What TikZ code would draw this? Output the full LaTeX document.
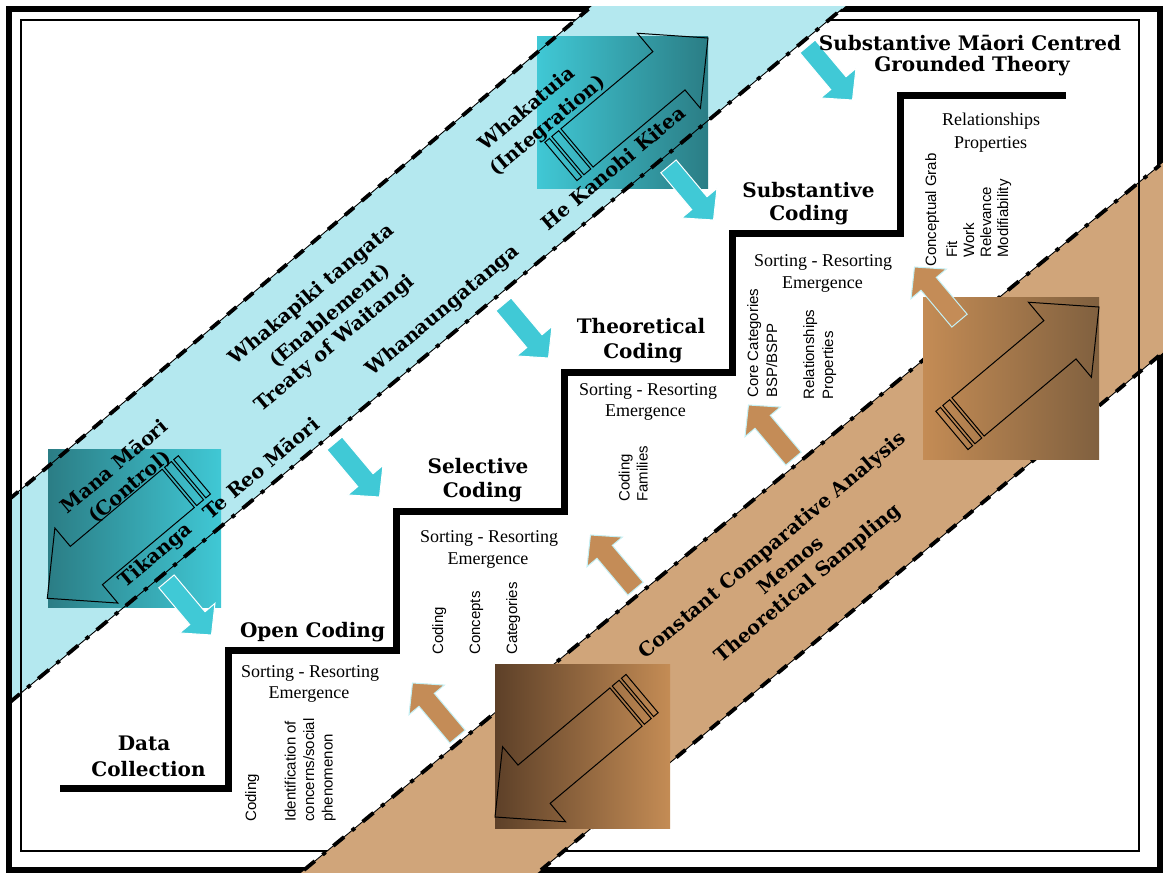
\documentclass[tikz,border=0pt]{standalone}
\usepackage{fontspec}
\setmainfont{Liberation Serif}
\setsansfont{Liberation Sans}
\newfontfamily\stagefont{DejaVu Serif}

\definecolor{bandcyan}{HTML}{B4E8EF}
\definecolor{tealright}{HTML}{40C8D5}
\definecolor{tealdeep}{HTML}{2B7D85}
\definecolor{cyanarrow}{HTML}{40C9D6}
\definecolor{bandtan}{HTML}{D0A57A}
\definecolor{brownlight}{HTML}{C48C55}
\definecolor{browndeep}{HTML}{5D4028}
\definecolor{brownmid}{HTML}{80603F}
\definecolor{brownarrow}{HTML}{C48C57}
\definecolor{arrowrim}{HTML}{C4F0F5}

\tikzset{
  pics/bigarrow/.style={code={
    \draw[arrowoutline] (0,0) -- (-51,49) -- (-51,25) -- (-171,25) -- (-171,-25)
      -- (-51,-25) -- (-51,-49) -- cycle;
    \draw[arrowoutline] (-183,-25) rectangle (-174,25);
    \draw[arrowoutline] (-192,-25) rectangle (-186,25);
  }},
  pics/blockarrow/.style={code={
    \path[#1] (0,0) -- (-22,23) -- (-22,10) -- (-70,10) -- (-70,-10)
      -- (-22,-10) -- (-22,-23) -- cycle;
  }},
}

\begin{document}
\begin{tikzpicture}[x=1pt,y=-1pt,
  stagelabel/.style={font=\stagefont\bfseries\fontsize{20}{24}\selectfont, inner sep=0pt, anchor=base},
  bandlabel/.style={font=\stagefont\bfseries\fontsize{19.5}{22}\selectfont, inner sep=0pt, rotate=40},
  sortnote/.style={font=\fontsize{18}{21}\selectfont, inner sep=0pt, anchor=base},
  sidenote/.style={font=\sffamily\fontsize{15}{17}\selectfont, inner sep=0pt, rotate=90, anchor=base west},
  stairline/.style={line width=7pt, line join=miter},
  framethick/.style={line width=5.5pt},
  framethin/.style={line width=2pt},
  edgethin/.style={line width=0.9pt},
  edgedash/.style={line width=3.8pt, dash pattern=on 12pt off 10pt},
  edgedashdot/.style={line width=3.8pt, dash pattern=on 14pt off 10pt on 4pt off 10pt},
  arrowoutline/.style={draw=black, line width=1pt},
  cyanblock/.style={fill=cyanarrow, draw=white, line width=1pt},
  brownblock/.style={fill=brownarrow, draw=arrowrim, line width=1pt},
]
\useasboundingbox (0,0) rectangle (1163,873);
\fill[white] (0,0) rectangle (1163,873);

% double frame
\draw[framethick] (9,9) rectangle (1160,870);
\draw[framethin] (21,20) rectangle (1139,851);

% diagonal bands
\coordinate (cuL) at (6.5,501.8);
\coordinate (cuT) at (592,6);
\coordinate (clL) at (6.5,705.1);
\coordinate (clT) at (845.6,6);
\fill[bandcyan] (cuL) -- (cuT) -- (clT) -- (clL) -- cycle;

\coordinate (buB) at (301,873);
\coordinate (buR) at (1163,162.6);
\coordinate (blB) at (537.4,873);
\coordinate (blR) at (1163,352.5);
\fill[bandtan] (buB) -- (buR) -- (blR) -- (blB) -- cycle;

% frame sides kept above the bands
\draw[framethick] (9,6.25) -- (9,872.75);
\draw[framethin] (21,19) -- (21,852);
\draw[framethin] (1139,19) -- (1139,852);

% tan band edges
\coordinate (bu1) at (304,870);
\coordinate (bu2) at (1160,165);
\coordinate (bl1) at (541,870);
\coordinate (bl2) at (1160,355);
\draw[edgethin] (bu1) -- (bu2);
\draw[edgedashdot] (bu1) -- (bu2);
\draw[edgethin] (bl1) -- (bl2);
\draw[edgedash] (bl1) -- (bl2);

% gradient squares with striped arrows
\shade[left color=tealright, right color=tealdeep] (537,36) rectangle (708,188);
\pic[rotate=40] at (708,38) {bigarrow};
\shade[left color=tealdeep, right color=tealright] (48,449) rectangle (221,607);
\pic[rotate=220] at (47.3,598.3) {bigarrow};
\shade[left color=browndeep, right color=brownlight] (495,664) rectangle (670,828);
\pic[rotate=220] at (495,817) {bigarrow};
\shade[left color=brownlight, right color=brownmid] (923,297) rectangle (1099,459);
\pic[rotate=40] at (1099,307) {bigarrow};

% cyan band edges
\coordinate (cu1) at (9,499.5);
\coordinate (cu2) at (588.5,9);
\coordinate (cl1) at (9,703);
\coordinate (cl2) at (842,9);
\draw[edgethin] (cu1) -- (cu2);
\draw[edgedash] (cu1) -- (cu2);
\draw[edgethin] (cl1) -- (cl2);
\draw[edgedashdot] (cl1) -- (cl2);

% staircase
\coordinate (s0) at (60,788);
\coordinate (s1) at (228,788);
\coordinate (s2) at (228,650);
\coordinate (s3) at (396,650);
\coordinate (s4) at (396,511);
\coordinate (s5) at (564,511);
\coordinate (s6) at (564,372);
\coordinate (s7) at (732,372);
\coordinate (s8) at (732,233);
\coordinate (s9) at (900,233);
\coordinate (s10) at (900,95);
\coordinate (s11) at (1066,95);
\draw[stairline] (s0) -- (s1) -- (s2) -- (s3) -- (s4) -- (s5) -- (s6)
  -- (s7) -- (s8) -- (s9) -- (s10) -- (s11);

% block arrows
\pic[rotate=-50] at (211.5,635) {blockarrow=cyanblock};
\pic[rotate=-50] at (379.5,497) {blockarrow=cyanblock};
\pic[rotate=-50] at (548.5,358) {blockarrow=cyanblock};
\pic[rotate=-50] at (713.5,220) {blockarrow=cyanblock};
\pic[rotate=-50] at (852.5,100) {blockarrow=cyanblock};
\pic[rotate=130] at (412.5,683) {blockarrow=brownblock};
\pic[rotate=130] at (590.5,535) {blockarrow=brownblock};
\pic[rotate=130] at (748.5,405) {blockarrow=brownblock};
\pic[rotate=130] at (914.5,267) {blockarrow=brownblock};

% stage titles
\node[stagelabel] (topA) at (970,50) {Substantive Māori Centred};
\node[stagelabel] (topB) at (972,71) {Grounded Theory};
\node[stagelabel] (subA) at (808.5,197) {Substantive};
\node[stagelabel] (subB) at (809,220) {Coding};
\node[stagelabel] (theoA) at (641,333) {Theoretical};
\node[stagelabel] (theoB) at (643,358) {Coding};
\node[stagelabel] (selA) at (478,473) {Selective};
\node[stagelabel] (selB) at (482.5,497) {Coding};
\node[stagelabel] (openC) at (312.5,637) {Open Coding};
\node[stagelabel] (dataA) at (144,750) {Data};
\node[stagelabel] (dataB) at (148.5,776) {Collection};

% notes under each step
\node[sortnote] (relA) at (991,125) {Relationships};
\node[sortnote] (relB) at (990.5,148) {Properties};
\node[sortnote] (sortS1) at (823,266) {Sorting - Resorting};
\node[sortnote] (sortS2) at (822.5,288) {Emergence};
\node[sortnote] (sortT1) at (648,395) {Sorting - Resorting};
\node[sortnote] (sortT2) at (645.5,416) {Emergence};
\node[sortnote] (sortL1) at (489,542) {Sorting - Resorting};
\node[sortnote] (sortL2) at (488,564) {Emergence};
\node[sortnote] (sortO1) at (310,677) {Sorting - Resorting};
\node[sortnote] (sortO2) at (309,698) {Emergence};

% vertical notes
\node[sidenote] (oCod) at (256,822) {Coding};
\node[sidenote] (oId1) at (295.5,822) {Identification of};
\node[sidenote] (oId2) at (314,822) {concerns/social};
\node[sidenote] (oId3) at (332.5,822) {phenomenon};
\node[sidenote] (lCod) at (443,655) {Coding};
\node[sidenote] (lCon) at (480,655) {Concepts};
\node[sidenote] (lCat) at (517,655) {Categories};
\node[sidenote] (tCod) at (629.5,502) {Coding};
\node[sidenote] (tFam) at (647.5,502) {Families};
\node[sidenote] (sCore) at (758,398) {Core Categories};
\node[sidenote] (sBsp) at (777,398) {BSP/BSPP};
\node[sidenote] (sRel) at (814,400) {Relationships};
\node[sidenote] (sProp) at (833,400) {Properties};
\node[sidenote] (gGrab) at (936,267) {Conceptual Grab};
\node[sidenote] (gFit) at (957,258) {Fit};
\node[sidenote] (gWork) at (974,258) {Work};
\node[sidenote] (gRel) at (991,258) {Relevance};
\node[sidenote] (gMod) at (1008,258) {Modifiability};

% band labels
\node[bandlabel] (mana) at (114,466) {Mana Māori};
\node[bandlabel] (control) at (130,487) {(Control)};
\node[bandlabel] (tikanga) at (156,556) {Tikanga};
\node[bandlabel] (tereo) at (261,468) {Te Reo Māori};
\node[bandlabel] (whakapiki) at (312,295) {Whakapiki tangata};
\node[bandlabel] (enable) at (330,316) {(Enablement)};
\node[bandlabel] (treaty) at (335,344) {Treaty of Waitangi};
\node[bandlabel] (whanau) at (443,311) {Whanaungatanga};
\node[bandlabel] (whakatuia) at (526,108) {Whakatuia};
\node[bandlabel] (integ) at (548,126) {(Integration)};
\node[bandlabel] (kanohi) at (613,168) {He Kanohi Kitea};
\node[bandlabel] (constant) at (773,546) {Constant Comparative Analysis};
\node[bandlabel] (memos) at (790,565) {Memos};
\node[bandlabel] (sampling) at (808,584) {Theoretical Sampling};
\end{tikzpicture}
\end{document}
